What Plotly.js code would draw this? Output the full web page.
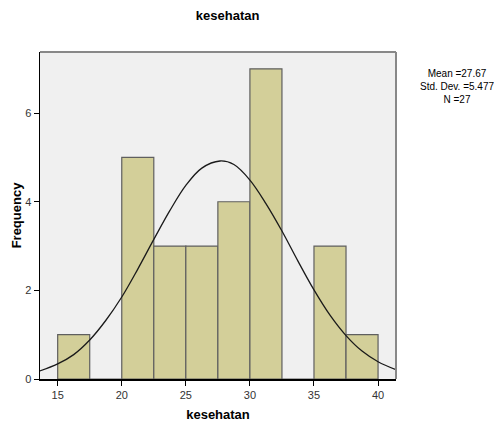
<!DOCTYPE html>
<html>
<head>
<meta charset="utf-8">
<script src="https://cdn.plot.ly/plotly-3.0.1.min.js"></script>
<style>html,body{margin:0;padding:0;background:#fff;}#chart{width:494px;height:433px;}</style>
</head>
<body>
<div id="chart"></div>
<script>
// Histogram bins (bin centers, width 2.5) and frequencies
const binCenters = [16.25, 18.75, 21.25, 23.75, 26.25, 28.75, 31.25, 33.75, 36.25, 38.75];
const frequencies = [1, 0, 5, 3, 3, 4, 7, 0, 3, 1];
// Normal curve points
const curveX = [13.6, 15, 16.25, 17.5, 18.75, 20, 21.25, 22.5, 23.75, 25, 26.25, 27.67, 28.75, 30, 31.25, 32.5, 33.75, 35, 36.25, 37.5, 38.75, 40, 41.4];
const curveY = [0.18, 0.34, 0.55, 0.88, 1.32, 1.85, 2.48, 3.15, 3.80, 4.37, 4.76, 4.92, 4.84, 4.49, 3.96, 3.34, 2.66, 2.01, 1.44, 0.98, 0.63, 0.39, 0.21];
const xTicks = [15, 20, 25, 30, 35, 40];
const yTicks = [0, 2, 4, 6];
const statsLines = ["Mean =27.67", "Std. Dev. =5.477", "N =27"];

const data = [
  {
    type: 'bar',
    x: binCenters,
    y: frequencies,
    width: 2.5,
    marker: {color: '#d3cf99', line: {color: '#5f5f5f', width: 1.2}},
    hoverinfo: 'x+y'
  },
  {
    type: 'scatter',
    mode: 'lines',
    x: curveX,
    y: curveY,
    line: {color: '#1a1a1a', width: 1.3, shape: 'spline'},
    hoverinfo: 'skip'
  }
];

const layout = {
  width: 494,
  height: 433,
  margin: {l: 40, r: 98, t: 52, b: 54},
  paper_bgcolor: '#ffffff',
  plot_bgcolor: '#f0f0f0',
  showlegend: false,
  bargap: 0,
  title: {
    text: '<b>kesehatan</b>',
    font: {family: 'Liberation Sans, Arial, sans-serif', size: 13, color: '#000'},
    x: 0.527, xref: 'paper', xanchor: 'center',
    y: 0.965, yref: 'container', yanchor: 'middle'
  },
  xaxis: {
    range: [13.62, 41.4],
    tickvals: xTicks,
    ticks: 'outside',
    ticklen: 5,
    tickcolor: '#000',
    showline: true,
    linecolor: '#000',
    linewidth: 1.5,
    mirror: false,
    showgrid: false,
    zeroline: false,
    tickfont: {family: 'Liberation Sans, Arial, sans-serif', size: 11, color: '#333'},
    title: {
      text: '<b>kesehatan</b>',
      font: {family: 'Liberation Sans, Arial, sans-serif', size: 13, color: '#000'},
      standoff: 10
    }
  },
  yaxis: {
    range: [0, 7.38],
    tickvals: yTicks,
    ticks: 'outside',
    ticklen: 5,
    tickcolor: '#000',
    showline: true,
    linecolor: '#000',
    linewidth: 1.5,
    showgrid: false,
    zeroline: false,
    tickfont: {family: 'Liberation Sans, Arial, sans-serif', size: 11, color: '#333'},
    title: {
      text: '<b>Frequency</b>',
      font: {family: 'Liberation Sans, Arial, sans-serif', size: 13, color: '#000'},
      standoff: 0
    }
  },
  shapes: [
    {type: 'line', xref: 'paper', yref: 'paper', x0: 0, x1: 1, y0: 1, y1: 1, line: {color: '#888', width: 2}},
    {type: 'line', xref: 'paper', yref: 'paper', x0: 1, x1: 1, y0: 0, y1: 1, line: {color: '#888', width: 2}}
  ],
  annotations: [
    {
      xref: 'paper', yref: 'paper',
      x: 1.17, y: 0.895, xanchor: 'center', yanchor: 'middle',
      text: statsLines.join('<br>'),
      showarrow: false,
      align: 'center',
      font: {family: 'Liberation Sans Narrow, Liberation Sans, Arial, sans-serif', size: 10, color: '#000'}
    }
  ]
};

Plotly.newPlot('chart', data, layout, {displayModeBar: false, staticPlot: true});
</script>
</body>
</html>
